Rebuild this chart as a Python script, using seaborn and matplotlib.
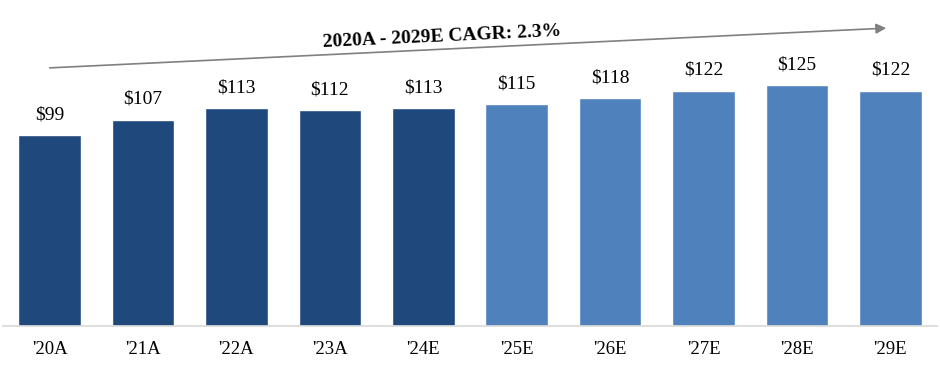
import matplotlib
matplotlib.use('Agg')
import matplotlib.pyplot as plt
import numpy as np
import pandas as pd
import seaborn as sns

years = ["'20A", "'21A", "'22A", "'23A", "'24E", "'25E", "'26E", "'27E", "'28E", "'29E"]
values = [99, 107, 113, 112, 113, 115, 118, 122, 125, 122]
kind = ['Actual'] * 5 + ['Estimate'] * 5
cagr_text = '2020A - 2029E CAGR: 2.3%'

sns.set_theme(style='white')
plt.rcParams['font.family'] = ['Liberation Serif', 'DejaVu Serif']
plt.rcParams['text.color'] = 'black'
plt.rcParams['xtick.color'] = 'black'

df = pd.DataFrame({'year': years, 'value': values, 'kind': kind})

fig = plt.figure(figsize=(9.4, 3.73), dpi=100)
ax = fig.add_axes([0.003, 0.126, 0.994, 0.874])

sns.barplot(data=df, x='year', y='value', hue='kind',
            palette={'Actual': '#1F497D', 'Estimate': '#4F81BD'},
            saturation=1, dodge=False, width=0.67, legend=False, ax=ax)

for i, v in enumerate(values):
    ax.annotate(f'${v}', (i, v), xytext=(0, 8.5), textcoords='offset points',
                ha='center', va='bottom', fontsize=14, color='black')

ax.set_xlim(-0.5, 9.5)
ax.set_ylim(0, 169)
ax.set_xlabel('')
ax.set_ylabel('')
ax.set_yticks([])
for s in ['top', 'right', 'left']:
    ax.spines[s].set_visible(False)
ax.spines['bottom'].set_color('#D9D9D9')
ax.tick_params(axis='x', length=0, labelsize=13.5, pad=11, labelcolor='black')

# CAGR arrow
fig.patches.append(matplotlib.patches.FancyArrowPatch(
    (47 / 940, 1 - 68 / 373), (889 / 940, 1 - 28 / 373),
    transform=fig.transFigure, arrowstyle='-|>', mutation_scale=15,
    color='#808080', lw=1.2))
fig.text(442 / 940, 1 - 37 / 373, cagr_text, ha='center', va='center',
         rotation=2.7, fontsize=14, fontweight='bold', color='black')

fig.savefig('out.png', dpi=100)
